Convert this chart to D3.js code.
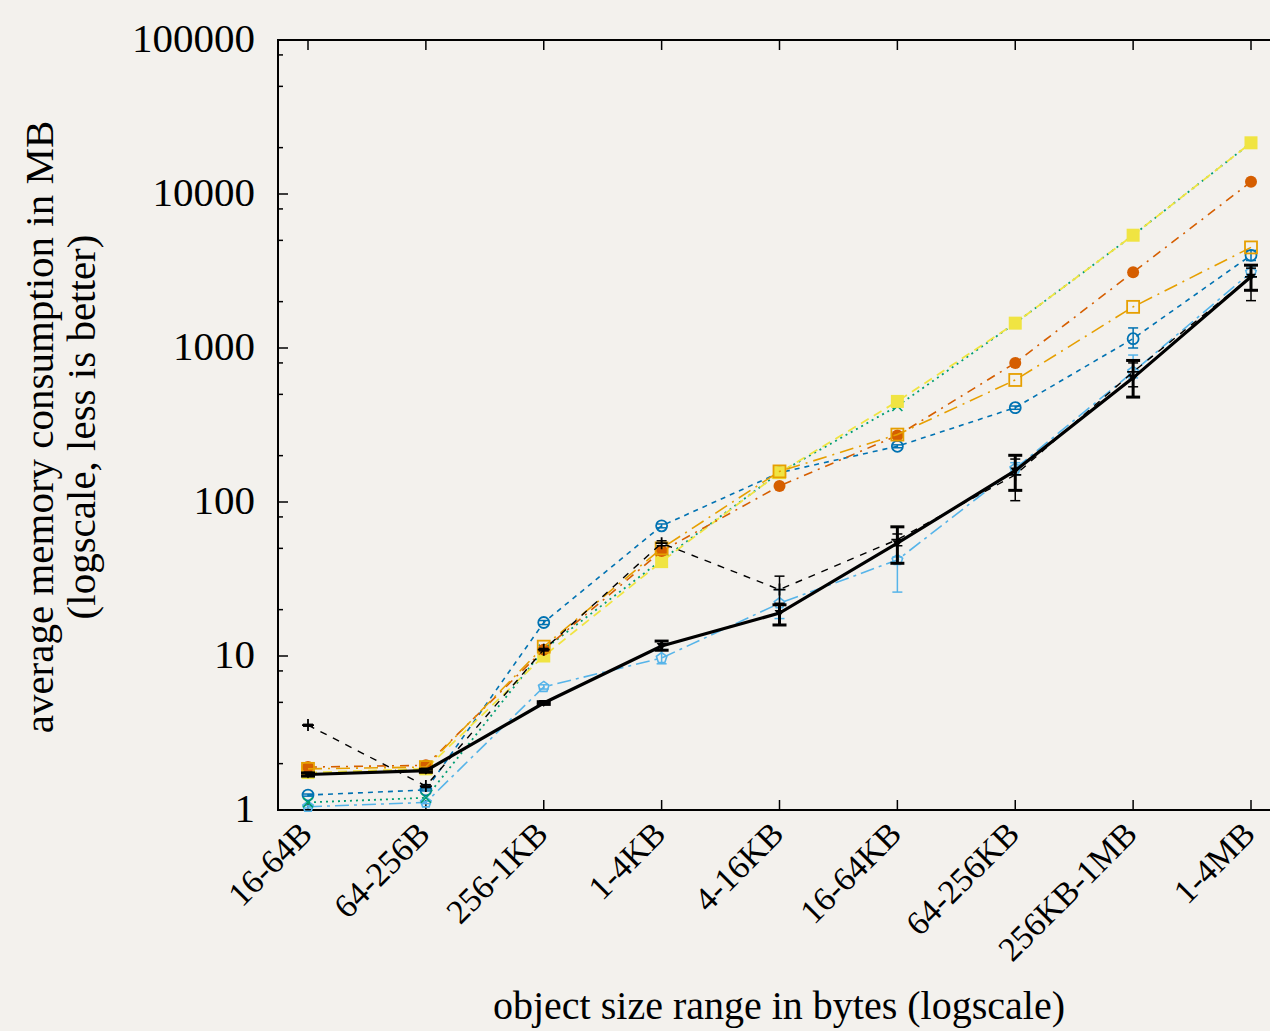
<!DOCTYPE html>
<html lang="en">
  <head>
    <meta charset="utf-8" />
    <script type="text/javascript" src="https://d3js.org/d3.v7.min.js"></script>
    <style>
      body { margin: 0; background: #f3f1ed; }
      svg { display: block; font-family: "Liberation Serif", "Times New Roman", serif; }
    </style>
  </head>

  <body>
    <script type="text/javascript">
      // size classes on the x axis
      let categories = ["16-64B", "64-256B", "256-1KB", "1-4KB", "4-16KB", "16-64KB", "64-256KB", "256KB-1MB", "1-4MB"];
      let yTicks = [1, 10, 100, 1000, 10000, 100000];

      // series values in MB
      let mainVals = [1.7, 1.8, 4.95, 11.6, 19, 54, 160, 640, 2900];
      let mainLo = [1.66, 1.76, 4.85, 10.9, 15.9, 40, 119, 480, 2370];
      let mainHi = [1.74, 1.84, 5.05, 12.5, 21.5, 69, 201, 830, 3450];

      let dashVals = [3.56, 1.43, 11, 54, 27, 57, 150, 700, 2900];
      let dashLo = [3.5, 1.4, 10.8, 52, 22, 52, 102, 560, 2030];
      let dashHi = [3.6, 1.46, 11.2, 56, 33, 62, 190, 800, 3300];

      let orangeVals = [1.85, 1.9, 11.5, 50, 158, 274, 620, 1850, 4500];
      let vermVals = [1.9, 1.95, 11, 48, 127, 270, 800, 3100, 12000];
      let yellowVals = [1.75, 1.85, 10, 41, 155, 450, 1450, 5400, 21500];
      let greenVals = [1.12, 1.2, 11, 42, 155, 420, 1450, 5400, 21500];
      let blueVals = [1.25, 1.35, 16.5, 70, 155, 230, 410, 1150, 4000];
      let blueLo = [1.23, 1.33, 16, 68, 150, 225, 400, 1000, 3700];
      let blueHi = [1.27, 1.37, 17, 72, 160, 235, 420, 1350, 4300];
      let skyVals = [1.05, 1.12, 6.3, 9.7, 22, 42, 165, 700, 3100];
      let skyLo = [1.03, 1.1, 6.1, 8.9, 17.5, 26, 150, 640, 2900];
      let skyHi = [1.07, 1.14, 6.5, 11, 27, 44, 180, 900, 3400];

      let w = 1270;
      let h = 1031;
      let mLeft = 278, mRight = 1281, mTop = 40, mBottom = 810;

      let svg = d3.select("body").append("svg").attr("width", w).attr("height", h);

      let x = d3.scalePoint().domain(categories).range([308, 1251]);
      let y = d3.scaleLog().domain([1, 100000]).range([mBottom, mTop]);

      // frame
      svg.append("rect")
        .attr("x", mLeft).attr("y", mTop)
        .attr("width", mRight - mLeft).attr("height", mBottom - mTop)
        .attr("fill", "none").attr("stroke", "#000").attr("stroke-width", 2);

      // y ticks: majors at decades, minors at 2, 5, 8
      let minors = [];
      yTicks.slice(0, -1).forEach((d) => {
        [2, 5, 8].forEach((m) => minors.push(d * m));
      });
      svg.selectAll(".ymajor").data(yTicks).join("line")
        .attr("x1", mLeft).attr("x2", mLeft + 10)
        .attr("y1", (d) => y(d)).attr("y2", (d) => y(d))
        .attr("stroke", "#000").attr("stroke-width", 1.5);
      svg.selectAll(".yminor").data(minors).join("line")
        .attr("x1", mLeft).attr("x2", mLeft + 5)
        .attr("y1", (d) => y(d)).attr("y2", (d) => y(d))
        .attr("stroke", "#000").attr("stroke-width", 1.5);
      svg.selectAll(".ylab").data(yTicks).join("text")
        .attr("x", 255).attr("y", (d) => y(d) - 2).attr("dy", "0.33em")
        .attr("text-anchor", "end").attr("font-size", 41)
        .text((d) => d);

      // x ticks, bottom and top
      svg.selectAll(".xb").data(categories).join("line")
        .attr("x1", (d) => x(d)).attr("x2", (d) => x(d))
        .attr("y1", mBottom).attr("y2", mBottom - 10)
        .attr("stroke", "#000").attr("stroke-width", 1.5);
      svg.selectAll(".xt").data(categories).join("line")
        .attr("x1", (d) => x(d)).attr("x2", (d) => x(d))
        .attr("y1", mTop).attr("y2", mTop + 10)
        .attr("stroke", "#000").attr("stroke-width", 1.5);
      svg.selectAll(".xlab").data(categories).join("text")
        .attr("transform", (d) => "translate(" + (x(d) + 6) + "," + (mBottom + 26) + ") rotate(-45)")
        .attr("text-anchor", "end").attr("font-size", 34)
        .text((d) => d);

      // axis titles
      svg.append("text")
        .attr("x", 779).attr("y", 1019)
        .attr("text-anchor", "middle").attr("font-size", 40)
        .text("object size range in bytes (logscale)");
      let yt = svg.append("text")
        .attr("transform", "translate(53,427) rotate(-90)")
        .attr("text-anchor", "middle").attr("font-size", 41);
      yt.append("tspan").attr("x", 0).attr("y", 0).text("average memory consumption in MB");
      yt.append("tspan").attr("x", 0).attr("y", 42).text("(logscale, less is better)");

      let line = d3.line()
        .x((d, i) => x(categories[i]))
        .y((d) => y(d));

      let series = [
        { vals: skyVals, lo: skyLo, hi: skyHi, color: "#56b4e9", dash: "14,5,3,5", width: 1.6, mark: "pent" },
        { vals: blueVals, lo: blueLo, hi: blueHi, color: "#0072b2", dash: "5,5", width: 1.6, mark: "circle" },
        { vals: greenVals, color: "#009e73", dash: "2,4", width: 1.8, mark: "x" },
        { vals: yellowVals, color: "#f0e442", dash: "9,6", width: 1.8, mark: "fsquare" },
        { vals: vermVals, color: "#d55e00", dash: "9,6,2,6", width: 1.6, mark: "fcircle" },
        { vals: orangeVals, color: "#e69f00", dash: "14,6,2,6", width: 1.6, mark: "square" },
        { vals: dashVals, lo: dashLo, hi: dashHi, color: "#000", dash: "7,7", width: 1.4, mark: "plus" },
        { vals: mainVals, lo: mainLo, hi: mainHi, color: "#000", dash: null, width: 3.2, mark: "tri", cap: 7, ew: 3 },
      ];

      let pent = (r) => {
        let p = [];
        for (let k = 0; k < 5; k++) {
          let a = -Math.PI / 2 + (k * 2 * Math.PI) / 5;
          p.push([r * Math.cos(a), r * Math.sin(a)]);
        }
        return "M" + p.join("L") + "Z";
      };

      series.forEach((s) => {
        let g = svg.append("g");
        g.append("path")
          .attr("d", line(s.vals))
          .attr("fill", "none")
          .attr("stroke", s.color)
          .attr("stroke-width", s.width)
          .attr("stroke-dasharray", s.dash);

        if (s.lo) {
          let cap = s.cap || 5;
          let ew = s.ew || 1.5;
          let eb = g.selectAll(".err").data(s.vals).join("g");
          eb.append("line")
            .attr("x1", (d, i) => x(categories[i])).attr("x2", (d, i) => x(categories[i]))
            .attr("y1", (d, i) => y(s.lo[i])).attr("y2", (d, i) => y(s.hi[i]))
            .attr("stroke", s.color).attr("stroke-width", ew);
          [s.lo, s.hi].forEach((arr) => {
            eb.append("line")
              .attr("x1", (d, i) => x(categories[i]) - cap).attr("x2", (d, i) => x(categories[i]) + cap)
              .attr("y1", (d, i) => y(arr[i])).attr("y2", (d, i) => y(arr[i]))
              .attr("stroke", s.color).attr("stroke-width", ew);
          });
        }

        let m = g.selectAll(".pt").data(s.vals).join("g")
          .attr("transform", (d, i) => "translate(" + x(categories[i]) + "," + y(d) + ")");
        if (s.mark === "circle") {
          m.append("circle").attr("r", 5.5).attr("fill", "none").attr("stroke", s.color).attr("stroke-width", 1.8);
        } else if (s.mark === "fcircle") {
          m.append("circle").attr("r", 6).attr("fill", s.color);
        } else if (s.mark === "square") {
          m.append("rect").attr("x", -6).attr("y", -6).attr("width", 12).attr("height", 12)
            .attr("fill", "none").attr("stroke", s.color).attr("stroke-width", 1.8);
        } else if (s.mark === "fsquare") {
          m.append("rect").attr("x", -6.5).attr("y", -6.5).attr("width", 13).attr("height", 13).attr("fill", s.color);
        } else if (s.mark === "x") {
          m.append("path").attr("d", "M-5,-5L5,5M-5,5L5,-5").attr("stroke", s.color).attr("stroke-width", 1.6);
        } else if (s.mark === "plus") {
          m.append("path").attr("d", "M-6,0L6,0M0,-6L0,6").attr("stroke", s.color).attr("stroke-width", 1.8);
        } else if (s.mark === "pent") {
          m.append("path").attr("d", pent(5.5)).attr("fill", "none").attr("stroke", s.color).attr("stroke-width", 1.6);
        } else if (s.mark === "tri") {
          m.append("path").attr("d", "M-5,-3L5,-3L0,4Z").attr("fill", s.color);
        }
      });
    </script>
  </body>
</html>
